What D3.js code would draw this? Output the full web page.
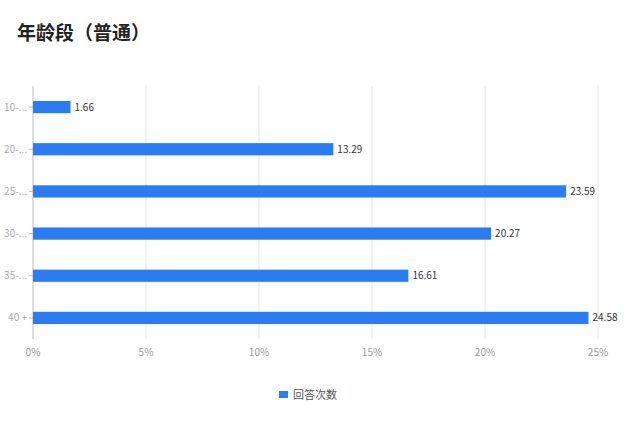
<!DOCTYPE html><html><head><meta charset="utf-8"><script src="https://cdn.jsdelivr.net/npm/d3@7"></script>
<style>body{margin:0;background:#fff}text{font-family:"Noto Sans CJK SC","Noto Sans",sans-serif}</style></head><body>
<svg id="c" width="640" height="429"></svg>
<script>
const categories=["10-...","20-...","25-...","30-...","35-...","40 +"];
const values=[1.66,13.29,23.59,20.27,16.61,24.58];
const ticks=[0,5,10,15,20,25];
const seriesName="回答次数";
const svg=d3.select("#c");
svg.append("text").attr("x",17).attr("y",40).attr("font-size",19).attr("font-weight","bold").attr("fill","#222").text("年龄段（普通）");
const x=d3.scaleLinear().domain([0,25]).range([33,598]);
const y=d3.scaleBand().domain(categories).range([86,339]).paddingInner(0.71).paddingOuter(0.355);
const g=svg.append("g");
g.selectAll(".grid").data(ticks.slice(1)).join("line").attr("x1",d=>x(d)).attr("x2",d=>x(d)).attr("y1",86).attr("y2",339).attr("stroke","#e6e6e6");
g.append("line").attr("x1",x(0)).attr("x2",x(0)).attr("y1",86).attr("y2",339).attr("stroke","#bbb");
g.selectAll(".tl").data(ticks).join("text").attr("x",d=>x(d)).attr("y",356).attr("text-anchor","middle").attr("font-size",10).attr("fill","#999").text(d=>d+"%");
g.selectAll(".cl").data(categories).join("text").attr("x",27).attr("y",d=>y(d)+y.bandwidth()/2+3.5).attr("text-anchor","end").attr("font-size",10).attr("fill","#aaa").text(d=>d);
g.selectAll(".tk").data(categories).join("line").attr("x1",29).attr("x2",33).attr("y1",d=>y(d)+y.bandwidth()/2).attr("y2",d=>y(d)+y.bandwidth()/2).attr("stroke","#bbb");
g.selectAll(".bar").data(values).join("rect").attr("x",x(0)).attr("y",(d,i)=>y(categories[i])).attr("width",d=>x(d)-x(0)).attr("height",y.bandwidth()).attr("fill","#2b7cf0");
g.selectAll(".vl").data(values).join("text").attr("x",d=>x(d)+4).attr("y",(d,i)=>y(categories[i])+y.bandwidth()/2+3.5).attr("font-size",10).attr("fill","#333").text(d=>d.toFixed(2));
svg.append("rect").attr("x",279).attr("y",391).attr("width",9).attr("height",7).attr("fill","#2b7cf0");
svg.append("text").attr("x",293).attr("y",399).attr("font-size",11).attr("fill","#555").text(seriesName);
</script></body></html>
